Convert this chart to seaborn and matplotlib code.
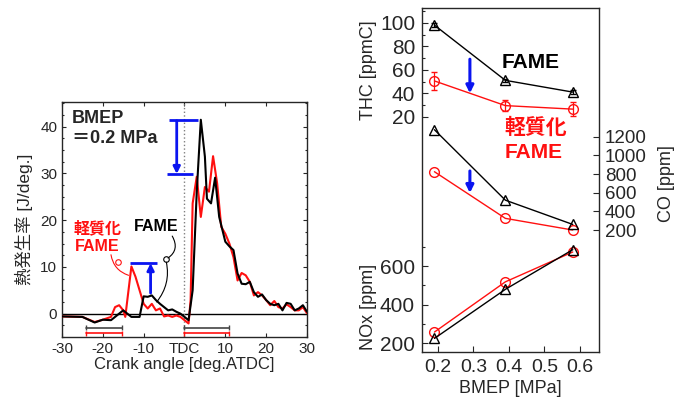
import numpy as np
import pandas as pd
import matplotlib
matplotlib.use("Agg")
import matplotlib.pyplot as plt
from matplotlib.ticker import MultipleLocator, FixedLocator
import seaborn as sns

sns.set_style("ticks")
plt.rcParams['font.family'] = ['Liberation Sans', 'Noto Sans CJK JP', 'DejaVu Sans']
plt.rcParams['xtick.direction'] = 'in'
plt.rcParams['ytick.direction'] = 'in'


# HEAT RELEASE DATA

crank_fame = [-30, -25, -22, -20, -18, -16, -15, -13, -11, -10, -9, -8, -7, -6, -5, -4, -3,
              -2, -1, 0, 1, 2, 3, 4, 5, 5.5, 6.5, 7.5, 8.5, 10, 11, 12, 13, 14, 15, 16,
              17, 18, 19, 20, 21, 22, 23, 24, 25, 26, 27, 28, 29, 30]
hrr_fame = [-0.6, -0.7, -1.9, -1.3, -1.4, 0.0, 0.7, -0.7, -0.7, 3.7, 3.6, 3.9, 2.9, 2.1, 1.4, 0.7, 0.9,
            0.4, 0.0, -0.7, -1.4, 5.0, 26.0, 41.5, 33.6, 24.6, 23.6, 29.1, 20.7, 15.4, 14.4, 13.6, 8.6, 6.4, 6.3, 6.8,
            4.6, 3.6, 4.1, 2.9, 2.1, 1.8, 2.1, 0.7, 2.3, 2.1, 0.7, 1.1, 1.8, 0.4]

crank_light = [-30, -25, -22, -20, -18, -17, -16, -15, -14.5, -13, -12, -11, -10, -9, -8, -7, -6,
               -5, -4, -3, -2, -1, 0, 1, 1.5, 2, 3, 4, 5, 6, 7, 8, 9, 10, 11, 12, 13,
               14, 15, 16, 17, 18, 19, 20, 21, 22, 23, 24, 25, 26, 27, 28, 29, 30]
hrr_light = [-0.6, -0.7, -1.8, -1.3, -0.7, 1.4, 1.8, 0.7, -0.7, 10.1, 7.9, 5.0, 2.1, 1.1, 2.1, 0.7, 1.1,
             -0.6, -0.4, -0.7, -0.4, -0.7, -1.4, -2.1, 2.9, 23.6, 29.3, 20.7, 27.1, 26.1, 33.7, 27.9, 18.6, 17.1, 15.0, 12.1, 7.1,
             8.7, 8.2, 6.8, 3.9, 4.6, 3.9, 2.9, 1.8, 2.7, 1.4, 1.1, 2.0, 1.4, 0.7, 0.7, 1.4, 0.1]

# injection periods
inj_pilot = [-24, -15.3]
inj_main = [0, 11]


# EMISSIONS DATA

bmep = [0.19, 0.39, 0.58]

thc_fame = [98, 51, 41]
thc_fame_err = [2, 1.5, 1.5]
thc_light = [50.5, 29.5, 26.5]
thc_light_err = [7.8, 4.5, 6]

co_fame = [1275, 520, 260]
co_light = [825, 325, 200]

nox_fame = [225, 480, 686]
nox_light = [258, 519, 674]

hrr_f = pd.DataFrame({'crank': crank_fame, 'hrr': hrr_fame})
hrr_l = pd.DataFrame({'crank': crank_light, 'hrr': hrr_light})


fig = plt.figure(figsize=(6.82, 4.03), dpi=100)

RED = '#ff1010'
BLUE = '#0a14f0'

# LEFT PANEL

ax = fig.add_axes([0.0909, 0.1638, 0.3592, 0.5831])

ax.axhline(0, color='black', lw=1.0, zorder=1)
ax.axvline(0, color='grey', lw=1.0, ls=':', zorder=1)

sns.lineplot(data=hrr_l, x='crank', y='hrr', color=RED, lw=1.5, ax=ax, zorder=3)
sns.lineplot(data=hrr_f, x='crank', y='hrr', color='black', lw=1.5, ax=ax, zorder=4)

ax.set_xlim(-30, 30)
ax.set_ylim(-5, 45.3)
ax.set_xticks([-30, -20, -10, 0, 10, 20, 30])
ax.set_xticklabels(['-30', '-20', '-10', 'TDC', '10', '20', '30'])
ax.set_yticks([0, 10, 20, 30, 40])
ax.yaxis.set_minor_locator(MultipleLocator(2.5))
ax.tick_params(which='both', top=True, right=True, labelsize=11, width=0.8)
ax.tick_params(which='major', length=3)
ax.tick_params(which='minor', length=1.5)
ax.set_xlabel('Crank angle [deg.ATDC]', fontsize=12, labelpad=1)
ax.set_ylabel('熱発生率 [J/deg.]', fontsize=12.5, labelpad=5)
for s in ax.spines.values():
    s.set_linewidth(1.0)

# injection brackets
for seg in [inj_pilot, inj_main]:
    ax.plot(seg, [-3.0, -3.0], color='#444444', lw=1.2)
    ax.vlines(seg, -3.6, -2.5, color='#444444', lw=1.0)
    ax.plot(seg, [-4.2, -4.2], color=RED, lw=1.2)
    ax.vlines(seg, -4.8, -3.7, color=RED, lw=1.0)

# blue markers of peak change
ax.hlines(41.4, -3.9, 3.2, color=BLUE, lw=2)
ax.hlines(29.8, -4.4, 2.2, color=BLUE, lw=2)
ax.annotate('', xy=(-1.9, 29.9), xytext=(-1.9, 41.3),
            arrowprops=dict(arrowstyle='-|>', color=BLUE, lw=2, mutation_scale=10, shrinkA=0, shrinkB=0))
ax.hlines(10.9, -13.3, -6.8, color=BLUE, lw=2)
ax.annotate('', xy=(-8.3, 10.8), xytext=(-8.3, 4.4),
            arrowprops=dict(arrowstyle='-|>', color=BLUE, lw=2, mutation_scale=10, shrinkA=0, shrinkB=0))

ax.text(-27.6, 43.6, 'BMEP\n＝0.2 MPa', fontsize=13, fontweight='bold', va='top', ha='left', linespacing=1.25)

ax.text(-6.9, 18.7, 'FAME', fontsize=11.5, fontweight='bold', color='black', ha='center', va='center')
ax.text(-21.3, 18.3, '軽質化', fontsize=11.5, fontweight='bold', color=RED, ha='center', va='center')
ax.text(-21.3, 14.3, 'FAME', fontsize=11.5, fontweight='bold', color=RED, ha='center', va='center')

# leader lines
ax.annotate('', xy=(-4.6, 11.6), xytext=(-3.0, 16.6),
            arrowprops=dict(arrowstyle='-', color='black', lw=0.8, connectionstyle='arc3,rad=-0.5',
                            shrinkA=0, shrinkB=2))
ax.annotate('', xy=(-6.8, 2.5), xytext=(-4.6, 11.6),
            arrowprops=dict(arrowstyle='-', color='black', lw=0.8, connectionstyle='arc3,rad=-0.25',
                            shrinkA=2, shrinkB=0))
ax.plot([-4.6], [11.6], marker='o', ms=4, mfc='white', mec='black', mew=0.8)
ax.annotate('', xy=(-13.7, 8.2), xytext=(-18.0, 12.6),
            arrowprops=dict(arrowstyle='-', color=RED, lw=0.8, connectionstyle='arc3,rad=0.3',
                            shrinkA=0, shrinkB=0))
ax.plot([-16.2], [11.0], marker='o', ms=4, mfc='none', mec=RED, mew=0.8)


# RIGHT PANEL (three stacked scales in one frame)

ax_thc = fig.add_axes([0.6188, 0.1273, 0.26, 0.852])
ax_co = ax_thc.twinx()
ax_nox = ax_thc.twinx()

ax_thc.set_xlim(0.155, 0.655)
ax_thc.set_xticks([0.2, 0.3, 0.4, 0.5, 0.6])
ax_thc.set_xticklabels(['0.2', '0.3', '0.4', '0.5', '0.6'])
ax_thc.tick_params(axis='x', labelsize=14, length=4, width=0.8, pad=5)
ax_thc.set_xlabel('BMEP [MPa]', fontsize=13, labelpad=3)

# THC
ax_thc.errorbar(bmep, thc_light, yerr=thc_light_err, fmt='none', ecolor=RED, elinewidth=0.9, capsize=2.5, zorder=2)
ax_thc.errorbar(bmep, thc_fame, yerr=thc_fame_err, fmt='none', ecolor='black', elinewidth=0.9, capsize=2.5, zorder=2)
sns.lineplot(x=bmep, y=thc_light, color=RED, lw=1.0, marker='o', ms=7, mfc='none', mec=RED, mew=1.0, ax=ax_thc)
sns.lineplot(x=bmep, y=thc_fame, color='black', lw=1.0, marker='^', ms=7, mfc='none', mec='black', mew=1.0, ax=ax_thc)
ax_thc.set_ylim(-180, 112.3)
ax_thc.yaxis.set_major_locator(FixedLocator([20, 40, 60, 80, 100]))
ax_thc.yaxis.set_minor_locator(FixedLocator([30, 50, 70, 90, 110]))
ax_thc.tick_params(axis='y', which='major', labelsize=15, length=4, width=0.8, pad=5)
ax_thc.tick_params(axis='y', which='minor', length=2.5, width=0.8)
ax_thc.set_ylabel('THC [ppmC]', fontsize=13)
ax_thc.yaxis.set_label_coords(-0.255, 0.82)

# CO
sns.lineplot(x=bmep, y=co_light, color=RED, lw=1.0, marker='o', ms=7, mfc='none', mec=RED, mew=1.0, ax=ax_co)
sns.lineplot(x=bmep, y=co_fame, color='black', lw=1.0, marker='^', ms=7, mfc='none', mec='black', mew=1.0, ax=ax_co)
ax_co.set_ylim(-1104, 2576)
ax_co.yaxis.set_major_locator(FixedLocator([200, 400, 600, 800, 1000, 1200]))
ax_co.tick_params(axis='y', labelsize=13.5, length=4, width=0.8, right=True, left=False, pad=4)
ax_co.set_ylabel('CO [ppm]', fontsize=13)
ax_co.yaxis.set_label_position('right')
ax_co.yaxis.set_label_coords(1.33, 0.49)

# NOx
sns.lineplot(x=bmep, y=nox_light, color=RED, lw=1.0, marker='o', ms=7, mfc='none', mec=RED, mew=1.0, ax=ax_nox)
sns.lineplot(x=bmep, y=nox_fame, color='black', lw=1.0, marker='^', ms=7, mfc='none', mec='black', mew=1.0, ax=ax_nox)
ax_nox.set_ylim(156, 1940)
ax_nox.yaxis.tick_left()
ax_nox.yaxis.set_major_locator(FixedLocator([200, 400, 600]))
ax_nox.yaxis.set_minor_locator(FixedLocator([300, 500, 700]))
ax_nox.tick_params(axis='y', which='major', labelsize=15, length=4, width=0.8, pad=5)
ax_nox.tick_params(axis='y', which='minor', length=2.5, width=0.8)
ax_nox.set_ylabel('NOx [ppm]', fontsize=13)
ax_nox.yaxis.set_label_position('left')
ax_nox.yaxis.set_label_coords(-0.255, 0.13)

for a in [ax_co, ax_nox]:
    for s in a.spines.values():
        s.set_visible(False)
for s in ax_thc.spines.values():
    s.set_linewidth(1.0)

# labels and arrows inside right frame
ax_thc.text(0.46, 66.5, 'FAME', fontsize=15, fontweight='bold', color='black', ha='center', va='center')
ax_thc.text(0.476, 11, '軽質化', fontsize=15, fontweight='bold', color=RED, ha='center', va='center')
ax_thc.text(0.47, -10, 'FAME', fontsize=15, fontweight='bold', color=RED, ha='center', va='center')
ax_thc.annotate('', xy=(0.29, 40), xytext=(0.29, 69),
                arrowprops=dict(arrowstyle='-|>', color=BLUE, lw=2.2, mutation_scale=11, shrinkA=0, shrinkB=0))
ax_co.annotate('', xy=(0.29, 597), xytext=(0.29, 833),
               arrowprops=dict(arrowstyle='-|>', color=BLUE, lw=2.2, mutation_scale=11, shrinkA=0, shrinkB=0))

fig.savefig('out.png', dpi=100)
